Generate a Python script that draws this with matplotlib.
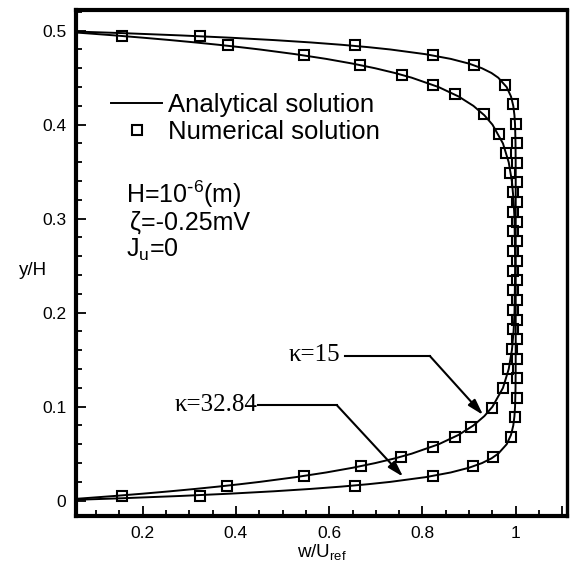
import matplotlib
matplotlib.use("Agg")
import matplotlib.pyplot as plt
from matplotlib.ticker import MultipleLocator, FixedLocator

plt.rcParams['font.family'] = ['Liberation Sans', 'DejaVu Sans']
plt.rcParams['mathtext.default'] = 'regular'

# ---------------- data ----------------
y_line = [0, 0.0025, 0.005, 0.0075, 0.01, 0.0125, 0.015, 0.0175, 0.02, 0.025, 0.03, 0.035,
          0.04, 0.045, 0.05, 0.06, 0.07, 0.08, 0.09, 0.10, 0.12, 0.14, 0.16, 0.18, 0.20, 0.25,
          0.30, 0.32, 0.34, 0.36, 0.38, 0.40, 0.41, 0.42, 0.43, 0.44, 0.45, 0.455, 0.46, 0.465,
          0.47, 0.475, 0.48, 0.4825, 0.485, 0.4875, 0.49, 0.4925, 0.495, 0.4975, 0.5]
w_line_k15 = [0, 0.0723, 0.1393, 0.2015, 0.2592, 0.3127, 0.3624, 0.4084, 0.4512, 0.5276, 0.5934,
              0.6501, 0.6988, 0.7408, 0.7769, 0.8347, 0.8775, 0.9093, 0.9328, 0.9502, 0.9727,
              0.9850, 0.9918, 0.9954, 0.9974, 0.9989, 0.9974, 0.9954, 0.9918, 0.9850, 0.9727,
              0.9502, 0.9328, 0.9093, 0.8775, 0.8347, 0.7769, 0.7408, 0.6988, 0.6501, 0.5934,
              0.5276, 0.4512, 0.4084, 0.3624, 0.3127, 0.2592, 0.2015, 0.1393, 0.0723, 0]
w_line_k32 = [0, 0.1514, 0.2799, 0.3890, 0.4815, 0.5600, 0.6266, 0.6831, 0.7311, 0.8064, 0.8606,
              0.8996, 0.9277, 0.9480, 0.9625, 0.9806, 0.9899, 0.9948, 0.9973, 0.9986, 0.9996,
              0.9999, 1.0, 1.0, 1.0, 1.0, 1.0, 1.0, 1.0, 0.9999, 0.9996, 0.9986, 0.9973, 0.9948,
              0.9899, 0.9806, 0.9625, 0.9480, 0.9277, 0.8996, 0.8606, 0.8064, 0.7311, 0.6831,
              0.6266, 0.5600, 0.4815, 0.3890, 0.2799, 0.1514, 0]

y_num_k15 = [0.0052, 0.0156, 0.0260, 0.0365, 0.0469, 0.0573, 0.0677, 0.0781, 0.0990, 0.1198,
             0.1406, 0.1615, 0.1823, 0.2031, 0.2240, 0.2448, 0.2656, 0.2865, 0.3073, 0.3281,
             0.3490, 0.3698, 0.3906, 0.4115, 0.4323, 0.4427, 0.4531, 0.4635, 0.4740, 0.4844, 0.4948]
w_num_k15 = [0.155, 0.380, 0.547, 0.668, 0.755, 0.822, 0.869, 0.905, 0.950, 0.972, 0.983, 0.991,
             0.995, 0.995, 0.995, 0.995, 0.995, 0.995, 0.995, 0.994, 0.988, 0.980, 0.964, 0.931,
             0.869, 0.823, 0.757, 0.667, 0.547, 0.382, 0.156]
y_num_k32 = [0.0052, 0.0156, 0.0260, 0.0365, 0.0469, 0.0677, 0.0885, 0.1094, 0.1302, 0.1510,
             0.1719, 0.1927, 0.2135, 0.2344, 0.2552, 0.2760, 0.2969, 0.3177, 0.3385, 0.3594,
             0.3802, 0.4010, 0.4219, 0.4427, 0.4635, 0.4740, 0.4844, 0.4948]
w_num_k32 = [0.322, 0.655, 0.823, 0.909, 0.952, 0.989, 0.998, 1.002, 1.003, 1.003, 1.003, 1.003,
             1.003, 1.003, 1.003, 1.003, 1.003, 1.003, 1.003, 1.003, 1.002, 1.000, 0.994, 0.977,
             0.910, 0.823, 0.655, 0.323]

x_major_ticks = [0.2, 0.4, 0.6, 0.8, 1.0, 1.1]
x_tick_labels = ['0.2', '0.4', '0.6', '0.8', '1', '']
y_major_ticks = [0, 0.1, 0.2, 0.3, 0.4, 0.5]
y_tick_labels = ['0', '0.1', '0.2', '0.3', '0.4', '0.5']

# ---------------- figure ----------------
fig = plt.figure(figsize=(5.70, 5.65), dpi=100)
ax = fig.add_axes([76/570, 49/565, (567-76)/570, (516-10)/565])

line_kw = dict(color='black', lw=1.4, zorder=2)
mk_kw = dict(ls='none', marker='s', ms=6.8, mfc='none', mec='black', mew=1.5, zorder=3)

ax.plot(w_line_k15, y_line, label='Analytical solution', **line_kw)
ax.plot(w_line_k32, y_line, **line_kw)
ax.plot(w_num_k15, y_num_k15, label='Numerical solution', **mk_kw)
ax.plot(w_num_k32, y_num_k32, **mk_kw)

ax.set_xlim(0.057, 1.110)
ax.set_ylim(-0.0163, 0.522)

ax.xaxis.set_major_locator(FixedLocator(x_major_ticks))
ax.set_xticklabels(x_tick_labels)
ax.xaxis.set_minor_locator(MultipleLocator(0.05))
ax.yaxis.set_major_locator(FixedLocator(y_major_ticks))
ax.set_yticklabels(y_tick_labels)
ax.yaxis.set_minor_locator(MultipleLocator(0.02))

ax.tick_params(which='both', direction='in', top=False, right=False, width=1.3, labelsize=12.5)
ax.tick_params(which='major', length=7, pad=7)
ax.tick_params(which='minor', length=4.5)

for s in ['left', 'bottom', 'top']:
    ax.spines[s].set_linewidth(3.0)
ax.spines['right'].set_linewidth(2.4)

ax.set_xlabel(r'w/U$_{ref}$', fontsize=13.5)
ax.xaxis.set_label_coords(0.5, -0.052)
ax.xaxis.label.set_va('top')
ax.set_ylabel('y/H', fontsize=13.5, rotation=0)
ax.yaxis.set_label_coords(-0.087, 0.486)
ax.yaxis.label.set_va('center')
ax.yaxis.label.set_ha('center')

leg = ax.legend(loc='upper left', bbox_to_anchor=(111/570, 1 - 93/565), bbox_transform=fig.transFigure,
                frameon=False, fontsize=18.5, handlelength=2.0, handletextpad=0.2,
                labelspacing=0.13, borderpad=0, borderaxespad=0)

# parameter text
ax.text(0.164, 0.3167, r'H=10$^{\text{-}6}$(m)', fontsize=18)
ax.text(0.172, 0.2880, 'ζ=-0.25mV', fontsize=18)
ax.text(0.164, 0.2596, r'J$_{u}$=0', fontsize=18)

# kappa labels with leader arrows
serif = ['Liberation Serif', 'DejaVu Serif']
ax.text(0.6235, 0.149, 'κ=15', fontsize=18, family=serif, ha='right', va='baseline')
ax.plot([0.634, 0.8157], [0.154, 0.154], color='black', lw=1.5)
ax.annotate('', xy=(0.930, 0.0912), xytext=(0.8157, 0.154),
            arrowprops=dict(arrowstyle='-|>,head_length=0.95,head_width=0.28', mutation_scale=10,
                            color='black', lw=1.5, shrinkA=0, shrinkB=0))

ax.text(0.447, 0.0957, 'κ=32.84', fontsize=18, family=serif, ha='right', va='baseline')
ax.plot([0.447, 0.616], [0.1018, 0.1018], color='black', lw=1.5)
ax.annotate('', xy=(0.7585, 0.0255), xytext=(0.616, 0.1018),
            arrowprops=dict(arrowstyle='-|>,head_length=0.95,head_width=0.28', mutation_scale=10,
                            color='black', lw=1.5, shrinkA=0, shrinkB=0))

fig.savefig('out.png', dpi=100)
